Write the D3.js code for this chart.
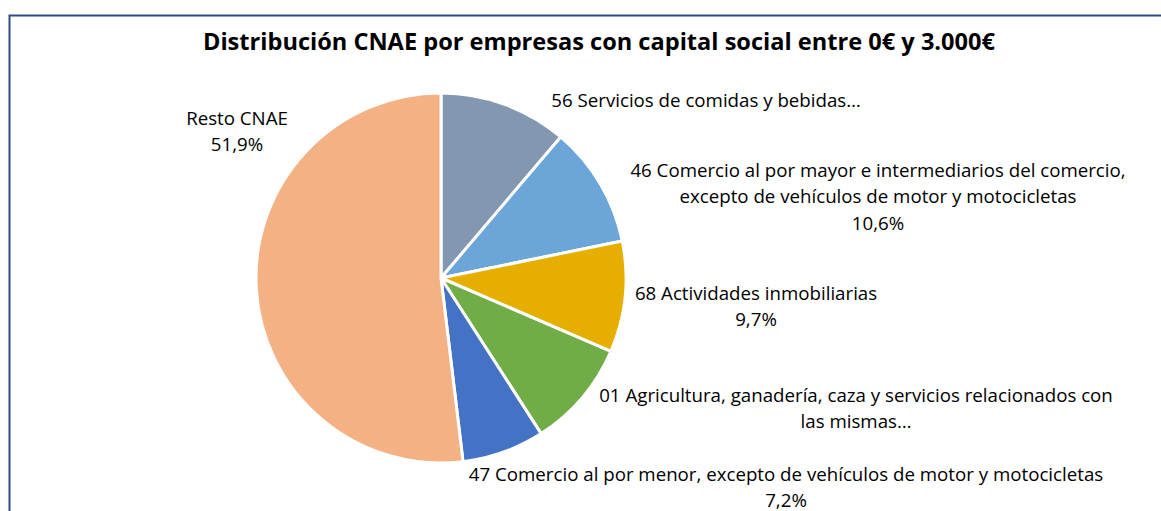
<!DOCTYPE html>
<html>
<head>
<meta charset="utf-8">
<script src="https://cdn.jsdelivr.net/npm/d3@7"></script>
<style>
  html, body { margin: 0; padding: 0; background: #fff; }
  svg { display: block; }
</style>
</head>
<body>
<div id="chart"></div>
<script>
// Data
const categories = [
  '56 Servicios de comidas y bebidas…',
  '46 Comercio al por mayor e intermediarios del comercio, excepto de vehículos de motor y motocicletas',
  '68 Actividades inmobiliarias',
  '01 Agricultura, ganadería, caza y servicios relacionados con las mismas…',
  '47 Comercio al por menor, excepto de vehículos de motor y motocicletas',
  'Resto CNAE'
];
const values = [11.2, 10.6, 9.7, 9.4, 7.2, 51.9];
// label lines as shown in the chart (some labels are cut short)
const labelLines = [
  ['56 Servicios de comidas y bebidas…'],
  ['46 Comercio al por mayor e intermediarios del comercio,', 'excepto de vehículos de motor y motocicletas', '10,6%'],
  ['68 Actividades inmobiliarias', '9,7%'],
  ['01 Agricultura, ganadería, caza y servicios relacionados con', 'las mismas…'],
  ['47 Comercio al por menor, excepto de vehículos de motor y motocicletas', '7,2%'],
  ['Resto CNAE', '51,9%']
];
const colors = ['#8497b0', '#6ca6d9', '#e6af00', '#70ad47', '#4472c4', '#f4b183'];

// Layout (label anchor = centre of first line)
const labelPos = [[706, 100], [878, 170], [756, 293], [856, 395], [786, 474], [237, 118]];
const lineGap = 26.5;
const font = "'Open Sans', 'Liberation Sans', sans-serif";

const width = 1161, height = 511;
const cx = 441, cy = 278, radius = 185;

const svg = d3.select('#chart')
  .append('svg')
  .attr('width', width)
  .attr('height', height);

// chart frame
svg.append('rect')
  .attr('x', 9.5)
  .attr('y', 15.5)
  .attr('width', 1300)
  .attr('height', 700)
  .attr('fill', '#fff')
  .attr('stroke', '#2f4a7f')
  .attr('stroke-width', 2);

const title = svg.append('text')
  .attr('x', 599)
  .attr('y', 42)
  .attr('dy', '0.35em')
  .attr('text-anchor', 'middle')
  .style('font-family', font)
  .style('font-weight', 'bold')
  .style('font-size', '20px')
  .attr('fill', '#000')
  .text('Distribución CNAE por empresas con capital social entre 0€ y 3.000€');

// fit title to the width it has in the original (Calibri is not available)
const tw = title.node().getComputedTextLength();
title.style('font-size', (20 * 792 / tw).toFixed(2) + 'px');

const pie = d3.pie().sort(null).value((d) => d);
const arc = d3.arc().innerRadius(0).outerRadius(radius);

const g = svg.append('g').attr('transform', `translate(${cx},${cy})`);

g.selectAll('path')
  .data(pie(values))
  .enter()
  .append('path')
  .attr('d', arc)
  .attr('fill', (d, i) => colors[i])
  .attr('stroke', '#fff')
  .attr('stroke-width', 3)
  .attr('stroke-linejoin', 'round');

// Labels
const labels = svg.selectAll('.label')
  .data(labelLines)
  .enter()
  .append('text')
  .attr('class', 'label')
  .attr('text-anchor', 'middle')
  .style('font-family', font)
  .style('font-size', '17px')
  .attr('fill', '#000')
  .attr('transform', (d, i) => `translate(${labelPos[i][0]},${labelPos[i][1]})`);

labels.selectAll('tspan')
  .data((d) => d)
  .enter()
  .append('tspan')
  .attr('x', 0)
  .attr('y', (d, i) => i * lineGap)
  .attr('dy', '0.35em')
  .text((d) => d);

// scale label font so the longest line matches the original (~635px)
const ref = labels.filter((d, i) => i === 4).select('tspan').node().getComputedTextLength();
labels.style('font-size', (17 * 635 / ref).toFixed(2) + 'px');
</script>
</body>
</html>
